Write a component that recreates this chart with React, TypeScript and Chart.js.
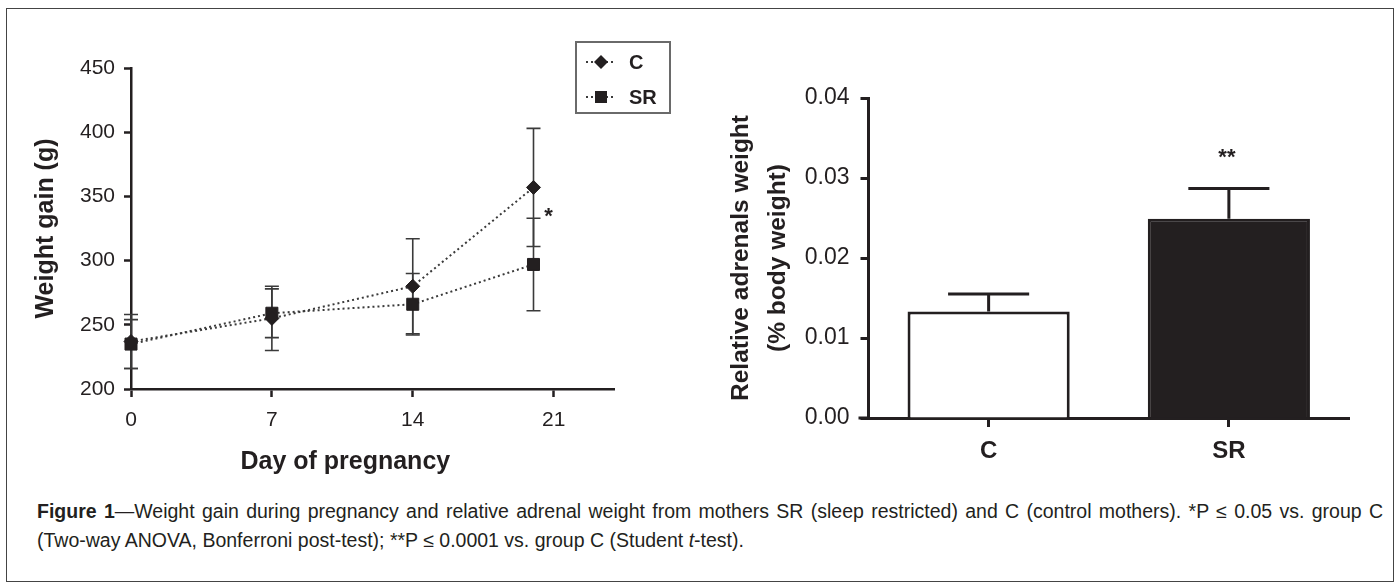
import React, { useEffect, useRef } from 'react';
import { Chart, registerables } from 'chart.js';

Chart.register(...registerables);

// ---------- data: weight gain during pregnancy ----------
const days = [0, 7, 14, 20];
const cMean = [237, 255, 280, 357];
const cSem = [21, 25, 37, 46];
const srMean = [235, 259, 266, 297];
const srSem = [19, 19, 24, 36];
const dayTicks = [0, 7, 14, 21];
const weightTicks = [200, 250, 300, 350, 400, 450];
const seriesLabels = ['C', 'SR'];

// ---------- data: relative adrenal weight ----------
const groups = ['C', 'SR'];
const adrenal = [0.0133, 0.0249];
const adrenalSem = [0.0022, 0.0038];
const adrenalTicks = [0, 0.01, 0.02, 0.03, 0.04];

// ---------- texts ----------
const leftXTitle = 'Day of pregnancy';
const leftYTitle = 'Weight gain (g)';
const rightYTitle = ['Relative adrenals weight', '(% body weight)'];
const leftSig = '*';
const rightSig = '**';

const SANS = '"Liberation Sans", Arial, Helvetica, sans-serif';
const INK = '#231f20';

function drawMarker(ctx: CanvasRenderingContext2D, style: string, x: number, y: number, r: number) {
  ctx.beginPath();
  if (style === 'rectRot') {
    ctx.moveTo(x, y - r);
    ctx.lineTo(x + r, y);
    ctx.lineTo(x, y + r);
    ctx.lineTo(x - r, y);
    ctx.closePath();
  } else {
    const s = r * Math.SQRT1_2;
    ctx.rect(x - s, y - s, 2 * s, 2 * s);
  }
  ctx.fill();
}

const lineErrorBars = {
  id: 'lineErrorBars',
  beforeDatasetsDraw(chart: any) {
    const { ctx, scales: { x, y } } = chart;
    ctx.save();
    ctx.strokeStyle = '#3a3a3a';
    ctx.lineWidth = 1.6;
    chart.data.datasets.forEach((ds: any) => {
      ds.data.forEach((pt: any, i: number) => {
        const px = x.getPixelForValue(pt.x);
        const top = y.getPixelForValue(pt.y + ds.errors[i]);
        const bot = y.getPixelForValue(pt.y - ds.errors[i]);
        ctx.beginPath();
        ctx.moveTo(px, top);
        ctx.lineTo(px, bot);
        ctx.moveTo(px - 7, top);
        ctx.lineTo(px + 7, top);
        ctx.moveTo(px - 7, bot);
        ctx.lineTo(px + 7, bot);
        ctx.stroke();
      });
    });
    ctx.restore();
  },
};

const boxLegend = {
  id: 'boxLegend',
  afterDraw(chart: any) {
    const { ctx } = chart;
    const bx = 576, by = 42, bw = 94, bh = 71;
    ctx.save();
    ctx.strokeStyle = '#6a6a6a';
    ctx.lineWidth = 2;
    ctx.strokeRect(bx, by, bw, bh);
    chart.data.datasets.forEach((ds: any, i: number) => {
      const cy = by + 20 + i * 35;
      ctx.strokeStyle = ds.borderColor;
      ctx.lineWidth = 2;
      ctx.setLineDash([2, 3]);
      ctx.beginPath();
      ctx.moveTo(bx + 10, cy);
      ctx.lineTo(bx + 40, cy);
      ctx.stroke();
      ctx.setLineDash([]);
      ctx.fillStyle = INK;
      drawMarker(ctx, ds.pointStyle, bx + 25, cy, ds.pointRadius);
      ctx.font = `bold 20px ${SANS}`;
      ctx.textAlign = 'left';
      ctx.textBaseline = 'middle';
      ctx.fillText(ds.label, bx + 53, cy + 1);
    });
    ctx.restore();
  },
};

const leftExtras = {
  id: 'leftExtras',
  afterDraw(chart: any) {
    const { ctx, scales: { x, y } } = chart;
    ctx.save();
    ctx.fillStyle = INK;
    // x-axis title centred under the labelled ticks
    const cx = (x.getPixelForValue(dayTicks[0]) + x.getPixelForValue(dayTicks[dayTicks.length - 1])) / 2;
    ctx.font = `bold 25px ${SANS}`;
    ctx.textAlign = 'center';
    ctx.textBaseline = 'middle';
    ctx.fillText(leftXTitle, cx + 3, 462);
    // significance mark at day 20
    ctx.font = `bold 22px ${SANS}`;
    ctx.textBaseline = 'alphabetic';
    ctx.fillText(leftSig, x.getPixelForValue(days[3]) + 15, y.getPixelForValue(336) + 8.5);
    ctx.restore();
  },
};

const barExtras = {
  id: 'barExtras',
  afterDatasetsDraw(chart: any) {
    const { ctx, scales: { y }, chartArea } = chart;
    const meta = chart.getDatasetMeta(0);
    ctx.save();
    ctx.strokeStyle = INK;
    ctx.lineWidth = 3;
    meta.data.forEach((bar: any, i: number) => {
      const top = y.getPixelForValue(adrenal[i]);
      const cap = y.getPixelForValue(adrenal[i] + adrenalSem[i]);
      const half = bar.width / 4;
      ctx.beginPath();
      ctx.moveTo(bar.x, top);
      ctx.lineTo(bar.x, cap);
      ctx.moveTo(bar.x - half, cap);
      ctx.lineTo(bar.x + half, cap);
      ctx.stroke();
    });
    // x-axis line reaches a little left of the y axis
    ctx.beginPath();
    ctx.moveTo(chartArea.left - 10, chartArea.bottom);
    ctx.lineTo(chartArea.left, chartArea.bottom);
    ctx.stroke();
    // significance mark above SR
    const sr = meta.data[1];
    ctx.fillStyle = INK;
    ctx.font = `bold 22px ${SANS}`;
    ctx.textAlign = 'center';
    ctx.textBaseline = 'alphabetic';
    ctx.fillText(rightSig, sr.x - 2, y.getPixelForValue(adrenal[1] + adrenalSem[1]) - 24);
    ctx.restore();
  },
};

function LineChart() {
  const ref = useRef<HTMLCanvasElement>(null);
  useEffect(() => {
    if (!ref.current) return;
    const axisGrid = (len: number) => ({
      display: true,
      drawOnChartArea: false,
      drawTicks: true,
      tickLength: len,
      tickWidth: 2.5,
      color: INK,
    });
    const chart = new Chart(ref.current, {
      type: 'line',
      data: {
        datasets: [
          {
            label: seriesLabels[0],
            data: days.map((d, i) => ({ x: d, y: cMean[i] })),
            errors: cSem,
            borderColor: '#3a3a3a',
            borderWidth: 2,
            borderDash: [2, 3],
            pointStyle: 'rectRot',
            pointRadius: 7,
            pointBackgroundColor: INK,
            pointBorderColor: INK,
            pointBorderWidth: 1,
            tension: 0,
            fill: false,
            clip: false,
          } as any,
          {
            label: seriesLabels[1],
            data: days.map((d, i) => ({ x: d, y: srMean[i] })),
            errors: srSem,
            borderColor: '#3a3a3a',
            borderWidth: 2,
            borderDash: [2, 3],
            pointStyle: 'rect',
            pointRadius: 8.5,
            pointBackgroundColor: INK,
            pointBorderColor: INK,
            pointBorderWidth: 1,
            tension: 0,
            fill: false,
            clip: false,
          } as any,
        ],
      },
      options: {
        responsive: false,
        animation: false,
        events: [],
        layout: { padding: { top: 68, right: 86, bottom: 0, left: 0 } },
        plugins: { legend: { display: false }, tooltip: { enabled: false } },
        scales: {
          x: {
            type: 'linear',
            min: 0,
            max: 24,
            afterFit: (s: any) => { s.height = 101; },
            afterBuildTicks: (s: any) => { s.ticks = dayTicks.map((v) => ({ value: v })); },
            ticks: { font: { family: SANS, size: 21 }, color: INK, padding: 11 },
            grid: axisGrid(8),
            border: { display: true, color: INK, width: 2.5 },
          },
          y: {
            type: 'linear',
            min: 200,
            max: 450,
            afterFit: (s: any) => { s.width = 131; },
            afterBuildTicks: (s: any) => { s.ticks = weightTicks.map((v) => ({ value: v })); },
            ticks: { font: { family: SANS, size: 21 }, color: INK, padding: 9 },
            grid: axisGrid(7),
            border: { display: true, color: INK, width: 2.5 },
            title: {
              display: true,
              text: leftYTitle,
              color: INK,
              font: { family: SANS, size: 25, weight: 'bold' },
              padding: { top: 31, bottom: 0 },
            },
          },
        },
      } as any,
      plugins: [lineErrorBars, boxLegend, leftExtras],
    });
    return () => chart.destroy();
  }, []);
  return (
    <canvas
      ref={ref}
      width={700}
      height={490}
      style={{ position: 'absolute', left: 0, top: 0, width: 700, height: 490 }}
    />
  );
}

function BarChart() {
  const ref = useRef<HTMLCanvasElement>(null);
  useEffect(() => {
    if (!ref.current) return;
    const chart = new Chart(ref.current, {
      type: 'bar',
      data: {
        labels: groups,
        datasets: [
          {
            data: adrenal,
            backgroundColor: ['#ffffff', INK],
            borderColor: INK,
            borderWidth: 3,
            borderSkipped: 'start',
            categoryPercentage: 1,
            barPercentage: 0.675,
          },
        ],
      },
      options: {
        responsive: false,
        animation: false,
        events: [],
        layout: { padding: { top: 98, right: 41, bottom: 0, left: 0 } },
        plugins: { legend: { display: false }, tooltip: { enabled: false } },
        scales: {
          x: {
            type: 'category',
            offset: true,
            afterFit: (s: any) => { s.height = 72; },
            ticks: { font: { family: SANS, size: 24, weight: 'bold' }, color: INK, padding: 10 },
            grid: {
              display: true,
              offset: false,
              drawOnChartArea: false,
              drawTicks: true,
              tickLength: 9,
              tickWidth: 3,
              color: INK,
            },
            border: { display: true, color: INK, width: 3 },
          },
          y: {
            type: 'linear',
            min: 0,
            max: 0.04,
            afterFit: (s: any) => { s.width = 168.5; },
            afterBuildTicks: (s: any) => { s.ticks = adrenalTicks.map((v) => ({ value: v })); },
            ticks: {
              font: { family: SANS, size: 23 },
              color: INK,
              padding: 11,
              callback: (v: any) => Number(v).toFixed(2),
            },
            grid: {
              display: true,
              drawOnChartArea: false,
              drawTicks: true,
              tickLength: 8,
              tickWidth: 3,
              color: INK,
            },
            border: { display: true, color: INK, width: 3 },
            title: {
              display: true,
              text: rightYTitle,
              color: INK,
              font: { family: SANS, size: 24.5, weight: 'bold', lineHeight: 1.5 },
              padding: { top: 23, bottom: 0 },
            },
          },
        },
      } as any,
      plugins: [barExtras],
    });
    return () => chart.destroy();
  }, []);
  return (
    <canvas
      ref={ref}
      width={690}
      height={490}
      style={{ position: 'absolute', left: 700, top: 0, width: 690, height: 490 }}
    />
  );
}

export default function App() {
  const captionStyle: React.CSSProperties = {
    position: 'absolute',
    left: 37,
    width: 1346,
    font: `19.5px ${SANS}`,
    color: INK,
    lineHeight: '29px',
  };
  return (
    <div>
      <div
        style={{
          position: 'absolute',
          left: 6,
          top: 8,
          width: 1388,
          height: 574,
          border: '1.5px solid #444',
          boxSizing: 'border-box',
        }}
      />
      <LineChart />
      <BarChart />
      <div style={{ ...captionStyle, top: 497, textAlign: 'justify', textAlignLast: 'justify' }}>
        <b>Figure 1</b>—Weight gain during pregnancy and relative adrenal weight from mothers SR (sleep
        restricted) and C (control mothers). *P ≤ 0.05 vs. group C
      </div>
      <div style={{ ...captionStyle, top: 526 }}>
        (Two-way ANOVA, Bonferroni post-test); **P ≤ 0.0001 vs. group C (Student <i>t</i>-test).
      </div>
    </div>
  );
}
